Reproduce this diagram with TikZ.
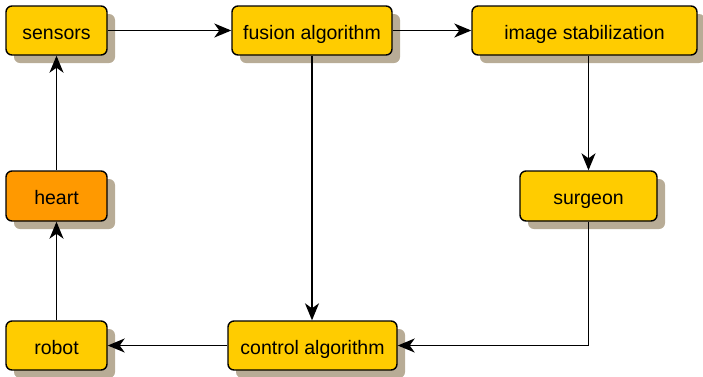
\documentclass[tikz,border=0pt]{standalone}
\usepackage{fontspec}
\setmainfont{Liberation Sans}
\usetikzlibrary{arrows.meta,shadows}
\definecolor{boxfill}{RGB}{255,204,0}
\definecolor{heartfill}{RGB}{255,153,0}
\definecolor{shade}{RGB}{184,172,150}
\begin{document}
\begin{tikzpicture}[x=1pt,y=-1pt,
 box/.style={draw, line width=1.4pt, rounded corners=6pt, fill=boxfill, inner sep=0pt,
   minimum height=49pt, font=\fontsize{19.5}{22}\selectfont, text height=17pt, text depth=0pt,
   drop shadow={shadow xshift=8pt, shadow yshift=-8pt, fill=shade, opacity=1}},
 conn/.style={-{Stealth[length=17pt,width=14pt,inset=5pt]}, line width=1.5pt}]
\useasboundingbox (0,0) rectangle (703,376);
\node[box, minimum width=101pt] (sensors) at (56.5,30.5) {sensors};
\node[box, minimum width=160pt] (fusion) at (312,30.5) {fusion algorithm};
\node[box, minimum width=225pt] (image) at (584.5,30.5) {image stabilization};
\node[box, minimum width=101pt, minimum height=50pt, fill=heartfill] (heart) at (56.5,196) {heart};
\node[box, minimum width=137pt, minimum height=50pt] (surgeon) at (588.5,196) {surgeon};
\node[box, minimum width=101pt] (robot) at (56.5,345.5) {robot};
\node[box, minimum width=169pt] (control) at (312.5,345.5) {control algorithm};
\draw[conn] (sensors.east) -- (fusion.west);
\draw[conn] (fusion.east) -- (image.west);
\draw[conn] (fusion.south) -- (fusion.south |- control.north);
\draw[conn] (surgeon.north |- image.south) -- (surgeon.north);
\draw[conn] (surgeon.south) |- (control.east);
\draw[conn] (control.west) -- (robot.east);
\draw[conn] (robot.north) -- (heart.south);
\draw[conn] (heart.north) -- (sensors.south);
\end{tikzpicture}
\end{document}
